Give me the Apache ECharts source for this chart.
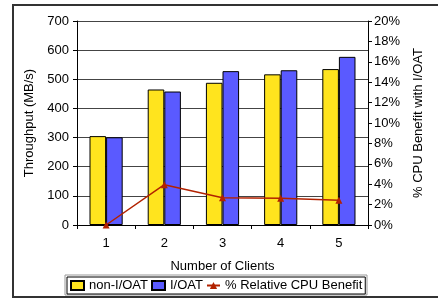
<!DOCTYPE html>
<html lang="en">
<head>
    <meta charset="UTF-8">
    <title>Throughput vs clients</title>
    <script src="https://cdn.jsdelivr.net/npm/echarts@6/dist/echarts.min.js"></script>
    <style>
        body { margin: 0; background: #fff; }
    </style>
</head>
<body>
<div id="main" style="width: 438px;height:301px;"></div>

<script type="text/javascript">
    // data
    var clients = ['1', '2', '3', '4', '5'];
    var nonIoat = [305, 465, 488, 517, 535];
    var ioat = [301, 458, 528, 531, 577];
    var cpuBenefit = [0, 3.95, 2.68, 2.62, 2.42];

    var font = 'Liberation Sans, Arial, sans-serif';

    var myChart = echarts.init(document.getElementById('main'));
    var option = {
        backgroundColor: '#fff',
        animation: false,
        textStyle: { fontFamily: font, color: '#000' },
        graphic: [
            {
                type: 'rect',
                shape: { x: 13, y: 5, width: 440, height: 292 },
                style: { fill: 'none', stroke: '#333', lineWidth: 2 },
                silent: true
            },
            {
                type: 'rect',
                shape: { x: 65, y: 275, width: 302, height: 20 },
                style: { fill: '#fff', stroke: '#999', lineWidth: 1 },
                silent: true,
                z: -1
            }
        ],
        grid: {
            left: 77,
            right: 70,
            top: 21,
            bottom: 76,
            show: true,
            borderWidth: 0,
            backgroundColor: '#fff'
        },
        legend: {
            left: 67,
            top: 277,
            padding: [2, 3, 2, 3],
            itemGap: 3,
            itemWidth: 13,
            itemHeight: 9,
            borderColor: '#000',
            borderWidth: 1,
            textStyle: { fontFamily: font, fontSize: 13, color: '#000' },
            data: [
                { name: 'non-I/OAT', icon: 'rect' },
                { name: 'I/OAT', icon: 'rect' },
                { name: '% Relative CPU Benefit' }
            ]
        },
        xAxis: {
            type: 'category',
            data: clients,
            name: 'Number of Clients',
            nameLocation: 'middle',
            nameGap: 35,
            nameTextStyle: { fontFamily: font, fontSize: 13, color: '#000' },
            axisLine: { lineStyle: { color: '#000', width: 1 } },
            axisTick: { show: true, length: 4, lineStyle: { color: '#000' } },
            axisLabel: { fontFamily: font, fontSize: 13, color: '#000', margin: 12 }
        },
        yAxis: [
            {
                type: 'value',
                min: 0,
                max: 700,
                interval: 100,
                name: 'Throughput (MB/s)',
                nameLocation: 'middle',
                nameRotate: 90,
                nameGap: 35,
                nameTextStyle: { fontFamily: font, fontSize: 13, color: '#000' },
                axisLine: { show: true, lineStyle: { color: '#000' } },
                axisTick: { show: true, length: 4, lineStyle: { color: '#000' } },
                axisLabel: { fontFamily: font, fontSize: 13, color: '#000', margin: 8 },
                splitLine: { show: true, lineStyle: { color: '#444', width: 1 } }
            },
            {
                type: 'value',
                min: 0,
                max: 20,
                interval: 2,
                position: 'right',
                name: '% CPU Benefit with I/OAT',
                nameLocation: 'middle',
                nameRotate: 90,
                nameGap: 44,
                nameTextStyle: { fontFamily: font, fontSize: 13, color: '#000' },
                axisLine: { show: true, lineStyle: { color: '#000' } },
                axisTick: { show: true, length: 4, lineStyle: { color: '#000' } },
                axisLabel: { fontFamily: font, fontSize: 13, color: '#000', margin: 6, formatter: '{value}%' },
                splitLine: { show: false }
            }
        ],
        series: [
            {
                name: 'non-I/OAT',
                type: 'bar',
                data: nonIoat,
                barGap: '0%',
                barCategoryGap: '43%',
                itemStyle: { color: '#FFE41E', borderColor: '#000', borderWidth: 1 }
            },
            {
                name: 'I/OAT',
                type: 'bar',
                data: ioat,
                itemStyle: { color: '#5A5AFF', borderColor: '#000', borderWidth: 1 }
            },
            {
                name: '% Relative CPU Benefit',
                type: 'line',
                yAxisIndex: 1,
                data: cpuBenefit,
                symbol: 'triangle',
                symbolSize: 7,
                lineStyle: { color: '#B22200', width: 1.5 },
                itemStyle: { color: '#B22200' },
                z: 5
            }
        ]
    };
    myChart.setOption(option);
</script>
</body>
</html>
